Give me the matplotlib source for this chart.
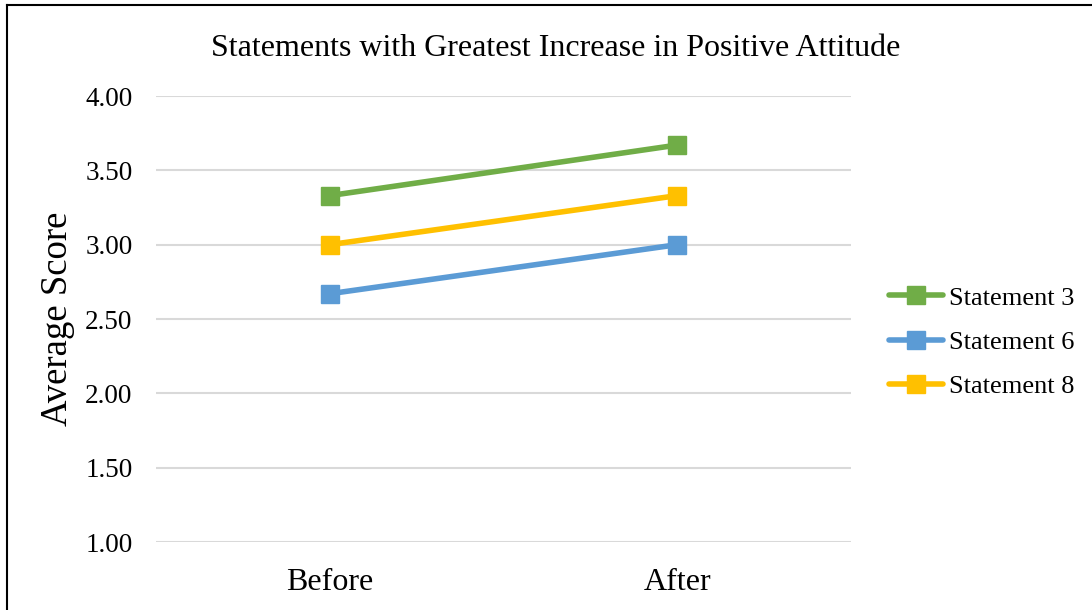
import matplotlib.pyplot as plt
from matplotlib.lines import Line2D

# Average scores before and after, per statement
stages = ["Before", "After"]
statement_3 = [3.33, 3.67]
statement_6 = [2.67, 3.00]
statement_8 = [3.00, 3.33]
series_names = ["Statement 3", "Statement 6", "Statement 8"]
series_colors = ["#70AD47", "#5B9BD5", "#FFC000"]
y_ticks = [1.00, 1.50, 2.00, 2.50, 3.00, 3.50, 4.00]

plt.rcParams["font.family"] = ["Liberation Serif", "DejaVu Serif"]

fig = plt.figure(figsize=(10.92, 6.10), dpi=100)
ax = fig.add_axes([156 / 1092, 1 - 542 / 610, 695 / 1092, 446 / 610])

x = [0.5, 1.5]
for vals, name, color in zip([statement_3, statement_6, statement_8], series_names, series_colors):
    ax.plot(x, vals, color=color, lw=4, marker="s", ms=13, solid_capstyle="round", label=name)

ax.set_xlim(0, 2)
ax.set_ylim(min(y_ticks), max(y_ticks))
ax.set_yticks(y_ticks)
ax.set_yticklabels([f"{t:.2f}" for t in y_ticks], fontsize=19.5)
ax.set_xticks(x)
ax.set_xticklabels(stages, fontsize=23)
ax.tick_params(length=0)
ax.tick_params(axis="y", pad=17)
ax.tick_params(axis="x", pad=19)
ax.grid(axis="y", color="#D9D9D9", lw=1.5)
ax.set_axisbelow(True)
for s in ax.spines.values():
    s.set_visible(False)

ax.set_ylabel("Average Score", fontsize=26.5, labelpad=7)
fig.text(556 / 1092, 1 - 48 / 610, "Statements with Greatest Increase in Positive Attitude",
         fontsize=23, ha="center", va="center")

handles = [Line2D([], [], color=c, lw=4, marker="s", ms=13, solid_capstyle="round") for c in series_colors]
fig.legend(handles, series_names, loc="center left", bbox_to_anchor=(889 / 1092, 1 - 342 / 610),
           frameon=False, fontsize=19, handlelength=2.05, handletextpad=0.23, labelspacing=0.78,
           borderpad=0, borderaxespad=0)

# outer frame lines (top and left)
fig.add_artist(Line2D([7 / 1092, 7 / 1092], [0, 1 - 5 / 610], color="black", lw=1.5))
fig.add_artist(Line2D([7 / 1092, 1], [1 - 5 / 610, 1 - 5 / 610], color="black", lw=1.5))

fig.savefig("out.png", dpi=100)
